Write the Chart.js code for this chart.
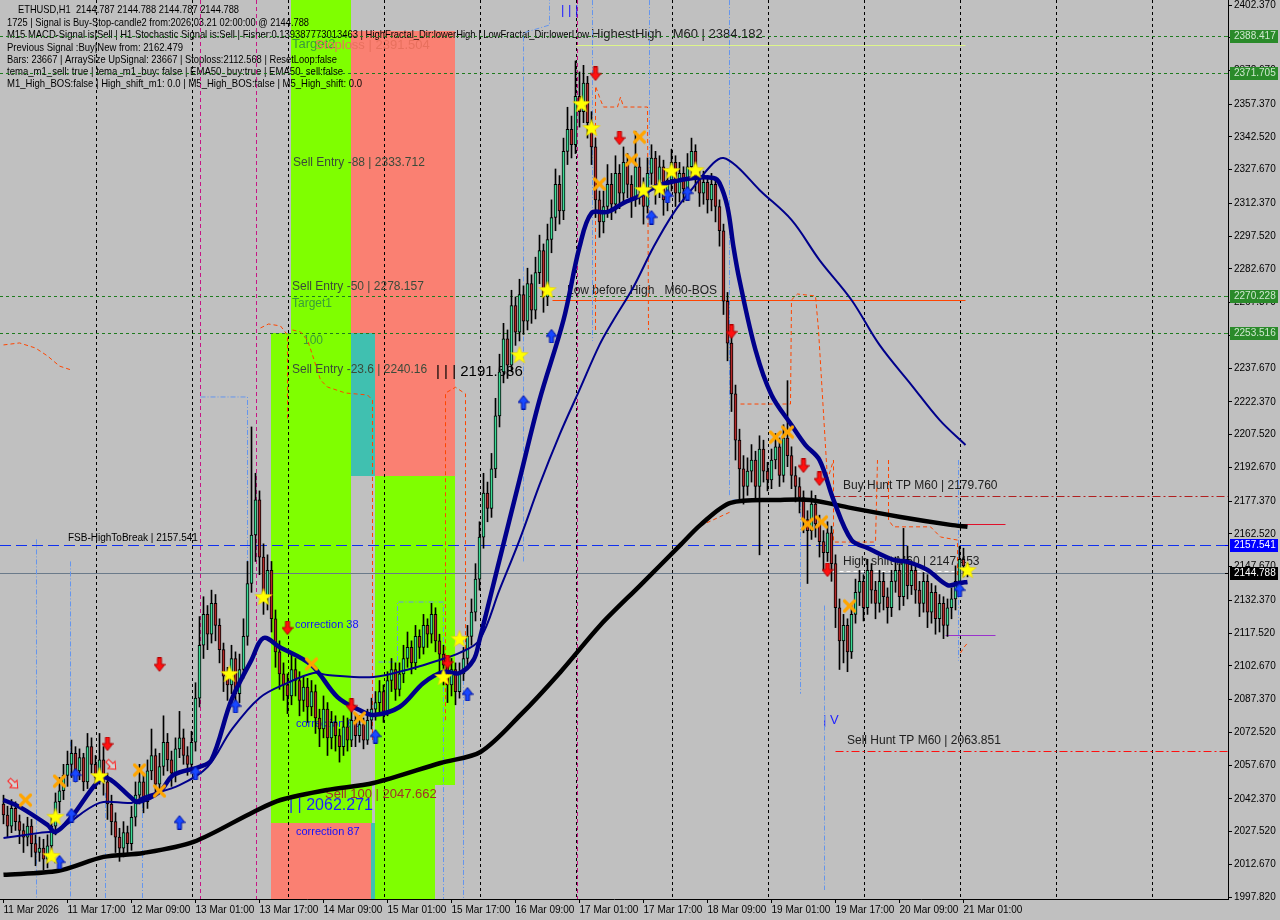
<!DOCTYPE html>
<html><head><meta charset="utf-8">
<script src="https://cdn.jsdelivr.net/npm/chart.js@4/dist/chart.umd.min.js"></script>
<style>html,body{margin:0;padding:0;background:#C0C0C0;overflow:hidden}canvas{display:block}</style>
</head><body>
<canvas id="c" width="1280" height="920" style="width:1280px;height:920px"></canvas>
<script>
// ---------------- DATA ----------------
const xTickIdx = [0,16,32,48,64,80,96,112,128,144,160,176,192,208,224,240];
const xTickLabels = ['11 Mar 2026','11 Mar 17:00','12 Mar 09:00','13 Mar 01:00','13 Mar 17:00','14 Mar 09:00','15 Mar 01:00','15 Mar 17:00','16 Mar 09:00','17 Mar 01:00','17 Mar 17:00','18 Mar 09:00','19 Mar 01:00','19 Mar 17:00','20 Mar 09:00','21 Mar 01:00'];
const yTicks = [2402.370,2387.520,2372.670,2357.370,2342.520,2327.670,2312.370,2297.520,2282.670,2267.370,2252.520,2237.670,2222.370,2207.520,2192.670,2177.370,2162.520,2147.670,2132.370,2117.520,2102.670,2087.370,2072.520,2057.670,2042.370,2027.520,2012.670,1997.820];

const open0 = 2040;
const closes = [
2035,2030,2038,2032,2028,2025,2030,2022,2018,2020,2015,2021,
2030,2041,2046,2053,
2058,2063,2055,2061,2050,2066,2058,2052,2060,
2050,2040,2032,2025,2020,2027,2022,2034,
2044,2050,2041,2055,2062,2049,2057,2068,2060,2054,2065,2070,2062,2058,2068,
2088,2112,2126,2117,2131,2121,
2110,2098,2094,2106,2090,2101,2116,
2140,2162,2178,2152,2134,2146,
2124,2109,2099,2094,2089,2101,
2096,2087,2093,2084,2091,2079,2074,2083,2070,2077,
2071,2066,2075,2069,2078,2071,2076,2069,2078,2083,
2086,2091,2082,2096,2101,2092,2099,2106,
2111,2104,2116,2111,2121,2117,2126,2114,2108,2103,
2094,2101,2091,2099,2106,2116,2127,
2142,2161,2181,2174,2192,2216,2236,
2251,2239,2266,2254,2271,2259,
2276,2264,2281,2291,2270,2296,
2306,2321,2309,2336,2346,2339,
2361,2354,2367,2349,2338,2314,
2304,2311,2321,2312,2326,2317,2331,2321,2314,2329,2319,2311,
2326,2333,2319,2329,2314,2323,2331,2317,2326,2319,2329,2336,2324,2317,2322,
2314,2321,2311,2300,2268,
2249,2226,2205,2192,2184,
2191,2196,2184,2201,2191,2187,2196,2202,2189,2206,2198,2189,2184,2179,
2169,2164,2176,2167,2159,2154,2163,2149,
2129,2114,2121,2109,2126,
2136,2141,2129,2146,2137,2131,2141,2134,
2129,2141,2146,2134,2151,2139,2146,2137,
2131,2141,2127,2136,2124,2131,2121,2129,
2133,2141,2151,2148,2144.788];
const highs = [
2044,2039,2042,2041,2035,2031,2034,2033,2026,2025,2024,2026,
2034,2045,2052,2058,
2064,2069,2066,2065,2063,2072,2070,2062,2072,
2066,2054,2044,2036,2029,2032,2030,2039,
2050,2058,2054,2060,2074,2065,2063,2080,2072,2064,2070,2082,2074,2066,2073,
2095,2125,2134,2130,2137,2135,
2124,2113,2102,2112,2109,2108,2124,
2150,2211,2190,2182,2158,2153,
2150,2128,2114,2104,2099,2108,
2106,2100,2098,2097,2096,2094,2083,2089,2086,2082,
2080,2074,2080,2079,2082,2081,2080,2079,2083,2088,
2091,2096,2094,2100,2106,2104,2104,2112,
2118,2114,2121,2119,2126,2124,2131,2129,2117,2112,
2106,2106,2104,2104,2111,2121,2133,
2149,2168,2190,2186,2199,2224,2244,
2258,2255,2273,2270,2278,2275,
2283,2280,2288,2298,2294,2303,
2314,2328,2325,2342,2356,2352,
2377,2372,2375,2370,2354,2342,
2318,2318,2330,2326,2334,2330,2338,2335,2325,2345,2333,2324,
2333,2339,2336,2334,2332,2328,2337,2334,2331,2329,2335,2342,2339,2328,2327,
2325,2326,2324,2314,2303,
2272,2253,2230,2210,2198,
2197,2203,2200,2207,2205,2195,2201,2208,2206,2212,2232,2202,2193,2188,
2182,2173,2182,2180,2171,2164,2168,2166,
2153,2133,2126,2124,2131,
2142,2146,2144,2151,2149,2141,2146,2145,
2138,2146,2152,2149,2165,2157,2150,2149,
2141,2145,2144,2140,2139,2135,2134,2133,
2138,2148,2157,2156,2149];
const lows = [
2031,2025,2027,2028,2022,2018,2021,2016,2012,2014,2010,2011,
2017,2026,2036,2042,
2048,2052,2050,2051,2046,2047,2054,2047,2049,
2044,2033,2026,2018,2014,2016,2017,2019,
2030,2040,2036,2038,2051,2044,2045,2053,2055,2048,2050,2061,2058,2053,2055,
2064,2084,2106,2110,2113,2114,
2104,2091,2087,2090,2084,2086,2097,
2112,2136,2150,2144,2126,2128,
2118,2102,2092,2087,2081,2085,
2089,2080,2082,2077,2080,2072,2066,2070,2062,2065,
2064,2059,2062,2064,2066,2066,2068,2065,2067,2074,
2078,2081,2077,2080,2091,2087,2089,2095,
2102,2099,2101,2106,2108,2111,2113,2109,2100,2094,
2086,2089,2085,2088,2096,2103,2112,
2123,2137,2156,2168,2170,2188,2211,
2231,2233,2236,2248,2250,2253,
2255,2258,2260,2276,2263,2266,
2290,2300,2303,2305,2330,2333,
2335,2347,2349,2342,2330,2306,
2297,2299,2306,2305,2308,2310,2313,2315,2306,2311,2312,2303,
2308,2321,2312,2315,2307,2309,2318,2311,2313,2313,2315,2324,2318,2311,2312,
2308,2309,2304,2293,2262,
2241,2218,2196,2178,2176,
2180,2186,2178,2153,2186,2182,2183,2192,2184,2186,2193,2183,2177,2172,
2163,2140,2160,2161,2152,2146,2150,2141,
2120,2101,2104,2100,2106,
2122,2130,2123,2126,2131,2124,2127,2128,
2122,2125,2136,2128,2130,2133,2135,2131,
2125,2127,2120,2122,2117,2118,2115,2116,
2124,2128,2137,2143,2143];

// moving averages: [bar index, price]
const maFast = [[0,2041.8],[4,2038.7],[11,2030.5],[13,2027.3],[17,2034.1],[23.5,2050.0],[26,2051.8],[32,2042.7],[33.5,2040.9],[39,2045.5],[42.5,2053.2],[49,2056.8],[52,2060.0],[57,2087.2],[62,2105.3],[65,2115.3],[69,2111.2],[77,2103.0],[83.5,2088.5],[89,2082.6],[92.5,2080.4],[99,2084.0],[105,2094.9],[110,2099.9],[114,2099.4],[117.5,2105.3],[119,2114.4],[124,2150.7],[129,2187.0],[134,2223.2],[140,2259.5],[144,2292.6],[147,2308.0],[151,2308.5],[155,2312.6],[158.5,2315.3],[164,2320.7],[172.5,2323.9],[177.5,2323.9],[179,2321.6],[181,2310.7],[182.5,2292.6],[184,2277.6],[188,2245.9],[192,2225.5],[197,2211.9],[200.5,2202.8],[204,2196.0],[207.5,2177.9],[212,2159.7],[216,2156.1],[222.5,2150.7],[226,2149.8],[231,2146.1],[236,2139.3],[239,2140.2],[241,2140.7]];
const maSlow = [[0,2024.6],[9,2026.9],[13.5,2028.2],[24,2040.5],[32,2040.5],[35,2043.2],[44,2048.6],[51,2056.8],[57,2073.6],[64,2088.1],[71,2094.9],[77.5,2099.4],[81,2098.5],[92.5,2097.6],[102.5,2101.7],[109,2105.3],[114,2108.5],[119,2114.4],[124,2137.1],[129,2159.7],[134,2184.7],[139,2207.4],[144,2227.8],[149,2248.2],[152.5,2259.5],[157.5,2274.5],[162.5,2292.6],[167.5,2308.0],[172.5,2319.8],[177.5,2330.7],[180,2333.0],[183.5,2328.9],[189,2318.5],[197,2304.9],[204,2286.7],[212,2268.6],[219,2248.2],[227,2230.0],[234,2214.2],[240.5,2202.8]];
const maLong = [[0,2007.9],[13.75,2009.7],[25,2016.0],[35,2017.8],[47.5,2022.8],[62.5,2036.4],[69.25,2041.8],[81,2046.4],[92.5,2049.5],[109.25,2058.6],[119.25,2063.6],[129.25,2080.4],[139.25,2099.9],[149.25,2121.2],[159.25,2139.3],[169.25,2157.5],[174.25,2166.6],[181.75,2176.6],[194.25,2177.9],[201.75,2177.9],[211.75,2174.3],[224.25,2170.2],[236.75,2166.6],[241,2165.7]];

// dashed envelope step lines: [bar index, price] with null breaks
const bandUpper = [[0,2248.2],[4,2249.1],[8,2246.8],[11,2243.2],[14,2238.6],[17,2236.8],null,
 [64.25,2255.9],[66.25,2257.7],[69.25,2256.8],[71,2252.7],[71,2214.2],null,
 [72.25,2255.0],[74.25,2254.1],[76,2250.4],[77.25,2243.6],[79.25,2232.3],[81,2229.1],[85.5,2226.4],[91,2225.5],[92.25,2223.2],[92.25,2069.0],null,
 [110.5,2078],[110.5,2226.4],[113,2229],[115.5,2226],[115.5,2110],null,
 [148,2255.0],[148,2365.6],[149.25,2359.3],[150,2356.1],[153.5,2356.1],[154.25,2360.6],[155,2356.1],[161,2356.1],[161.25,2255.0],null,
 [174.25,2166.2],[181.75,2172.5],null,
 [184.25,2221.4],[196.75,2221.4],[197,2268.6],[198.5,2271.3],[203,2270.4],[203.75,2255.0],[206,2187.0],[207.5,2196.0],[207.5,2158.8],[218,2158.8],[218.5,2196.0],null,
 [221.25,2196.0],[221.25,2168.8],[222.5,2165.7],[231.75,2165.7],[234.25,2161.1],[238.5,2159.7],[238.5,2142.9],null,
 [239.25,2108.5],[240,2110.8],[241,2113.0]];
const bandLower = [[8.25,2160],[8.25,1997],null,[16.75,2150],[16.75,1997],null,[25.5,2045],[25.5,1997],null,[34.75,2045],[34.75,1997],null,
 [49.25,2224.6],[61,2224.6],[61,2132.5],null,
 [93.75,2104.4],[98.5,2104.4],[98.5,2131.6],[110,2131.6],[110,1997],null,
 [115,2114.4],[115,1997],null,
 [130,2150],[130,2389.7],[136.5,2393.3],[136.5,2404.6],null,
 [147.25,2404.6],[147.25,2250],null,[161.5,2404.6],[161.5,2306],null,[181.5,2404.6],[181.5,2180],null,
 [182.25,2177.9],[199.25,2177.9],[199.25,2090],null,
 [205.25,2130],[205.25,2001],null,
 [238.75,2196],[238.75,2105]];

// signal markers: [bar index, price]
const sigSell = [[39,2103.1],[26,2067.2],[71,2119.8],[87,2084.5],[111,2104.4],[148,2371.1],[154,2342.0],[182,2254.1],[200,2193.3],[204,2187.4],[206,2146.1]];
const sigBuy = [[14,2013.7],[18,2053.2],[17,2035.0],[44,2031.8],[48,2054.1],[58,2084.5],[93,2070.8],[116,2089.9],[130,2222.3],[137,2252.3],[162,2306.2],[166,2315.8],[171,2317.1],[239,2137.1]];
const sigStar = [[12,2016.5],[13,2034.2],[24,2052.7],[56.5,2099.0],[65,2133.9],[110,2097.6],[114,2114.9],[129,2243.6],[136,2273.1],[144.5,2357.5],[147,2346.6],[160,2318.5],[164,2319.4],[167,2327.1],[173,2327.5],[241,2146.1]];
const sigCross = [[5.5,2041.8],[14,2050.4],[34,2055.4],[39,2045.9],[77,2103.5],[89,2079.0],[149,2321.2],[157,2332.1],[159,2342.5],[193,2206.4],[196,2208.7],[201,2167.0],[204.5,2167.9],[211.5,2129.8]];
const sigHollow = [[2.5,2049.1],[27,2057.7]];

// zones: [fromIdx, toIdx, priceTop, priceBottom, colour]
const zones = [
 [72,87,2404.6,2253.5,'#7FFF00'],
 [87,113,2390.5,2188.8,'#FA8072'],
 [87,93,2253.5,2188.8,'#40C0B0'],
 [67,87,2253.5,2031.4,'#7FFF00'],
 [87,92.25,2048.6,2031.4,'#7FFF00'],
 [93,113,2188.8,2048.6,'#7FFF00'],
 [93,108,2048.6,1996.0,'#7FFF00'],
 [67,92,2031.4,1996.0,'#FA8072'],
 [92,93,2031.4,1996.0,'#40C0B0']
];
// horizontal levels: [price, fromIdx, toIdx(null = right edge), colour, dash, width]
const levels = [
 [2388.417,null,null,'#1E7B1E',[3,3],1],
 [2371.705,null,null,'#1E7B1E',[3,3],1],
 [2270.228,null,null,'#1E7B1E',[3,3],1],
 [2253.516,null,null,'#1E7B1E',[3,3],1],
 [2157.541,null,null,'#1030F0',[11,5],1],
 [2144.788,null,null,'#6A7A8A',[],1],
 [2384.182,143.25,240.5,'#DDF58A',[],1],
 [2268.6,137.25,240.5,'#FF4500',[],1],
 [2179.760,207.25,null,'#B02020',[8,3,2,3],1],
 [2063.851,208,null,'#FF1010',[8,3,2,3],1],
 [2167.0,238.75,250.5,'#E0102A',[],1],
 [2116.7,235.5,248,'#9932CC',[],1],
 [2145.7,207.25,239,'#FFFFFF',[4,3],1]
];
const axisBoxes = [[2388.417,'#2A8A2A','#CFE8CF'],[2371.705,'#2A8A2A','#CFE8CF'],[2270.228,'#2A8A2A','#CFE8CF'],[2253.516,'#2A8A2A','#CFE8CF'],[2157.541,'#0000FF','#FFFFFF'],[2144.788,'#000000','#FFFFFF']];
const separators = [23,47,71,95,119,143,167,191,215,239,263,287];
const magentaLines = [49,63,143.25];
// text notes: [idx, price, text, colour, px]
const notes = [
 [72.25,2384.7,'Target2','#3A9A3A',13],
 [78,2384.2,'Stoploss | 2391.504','#E8705E',13],
 [72.5,2330.7,'Sell Entry -88 | 2333.712','#3A4A3A',12],
 [72.25,2274.5,'Sell Entry -50 | 2278.157','#3A4A3A',12],
 [72.25,2266.8,'Target1','#3A9A3A',12],
 [75,2250.0,'100','#3A9A3A',12],
 [72.25,2236.8,'Sell Entry -23.6 | 2240.16','#3A4A3A',12],
 [108.25,2235.9,'| | | 2191.586','#000000',15],
 [73,2121.2,'correction 38','#1010FF',11],
 [73.25,2076.3,'correction 61','#1010FF',11],
 [73.25,2027.3,'correction 87','#1010FF',11],
 [80.5,2044.5,'Sell 100 | 2047.662','#A0302A',13],
 [71.5,2039.1,'| | 2062.271','#1E1EFF',16],
 [16.25,2160.6,'FSB-HighToBreak | 2157.541','#000000',10],
 [141,2272.7,'Low before High   M60-BOS','#202020',12],
 [147,2388.8,'HighestHigh   M60 | 2384.182','#202020',13],
 [210,2184.2,'Buy Hunt TP M60 | 2179.760','#202020',12],
 [210,2149.8,'High shift M60 | 2147.453','#202020',12],
 [211,2068.6,'Sell Hunt TP M60 | 2063.851','#202020',12],
 [205,2078.1,'| V','#1E1EFF',13],
 [139.5,2400.1,'| | |','#1E1EFF',13]
];
const commentLines = [
 ['ETHUSD,H1  2144.787 2144.788 2144.787 2144.788',18,10,239],
 ['1725 | Signal is Buy-Stop-candle2 from:2026.03.21 02:00:00 @ 2144.788',7,23,309],
 ['M15 MACD-Signal is|Sell | H1 Stochastic Signal is:Sell | Fisher:0.139387773013463 | HighFractal_Dir:lowerHigh | LowFractal_Dir:lowerLow',7,35,589],
 ['Previous Signal :Buy|New from: 2162.479',7,48,183],
 ['Bars: 23667 | ArraySize UpSignal: 23667 | Stoploss:2112.568 | ResetLoop:false',7,60,337],
 ['tema_m1_sell: true | tema_m1_buy: false | EMA50_buy:true | EMA50_sell:false',7,72,343],
 ['M1_High_BOS:false | High_shift_m1: 0.0 | M5_High_BOS:false | M5_High_shift: 0.0',7,84,362]
];

// ---------------- ICONS ----------------
function mkIcon(w,h,draw){const c=document.createElement('canvas');c.width=w;c.height=h;draw(c.getContext('2d'));return c;}
const icoDown = mkIcon(12,15,g=>{g.beginPath();g.moveTo(4,0.5);g.lineTo(8,0.5);g.lineTo(8,7);g.lineTo(11.5,7);g.lineTo(6,14);g.lineTo(0.5,7);g.lineTo(4,7);g.closePath();g.fillStyle='#FF1010';g.fill();g.strokeStyle='#B00000';g.lineWidth=1;g.stroke();});
const icoUp = mkIcon(12,15,g=>{g.beginPath();g.moveTo(4,14.5);g.lineTo(8,14.5);g.lineTo(8,8);g.lineTo(11.5,8);g.lineTo(6,1);g.lineTo(0.5,8);g.lineTo(4,8);g.closePath();g.fillStyle='#1848FF';g.fill();g.strokeStyle='#0010A0';g.lineWidth=1;g.stroke();});
const icoStar = mkIcon(20,20,g=>{g.beginPath();for(let k=0;k<10;k++){const r=k%2?3.8:9;const a=-Math.PI/2+k*Math.PI/5;const px=10+r*Math.cos(a),py=10.5+r*Math.sin(a);k?g.lineTo(px,py):g.moveTo(px,py);}g.closePath();g.fillStyle='#FFFF00';g.fill();g.strokeStyle='#E8D000';g.lineWidth=0.6;g.stroke();});
const icoCross = mkIcon(15,15,g=>{g.lineCap='round';g.strokeStyle='#FFA500';g.lineWidth=3.2;g.beginPath();g.moveTo(2.5,2.5);g.lineTo(12.5,12.5);g.moveTo(12.5,2.5);g.lineTo(2.5,12.5);g.stroke();});
const icoHollow = mkIcon(15,15,g=>{g.translate(7.5,7.5);g.rotate(-Math.PI/4);g.beginPath();g.moveTo(-2,-6);g.lineTo(2,-6);g.lineTo(2,0);g.lineTo(5,0);g.lineTo(0,6);g.lineTo(-5,0);g.lineTo(-2,0);g.closePath();g.fillStyle='rgba(255,255,255,0.3)';g.fill();g.strokeStyle='#FF2020';g.lineWidth=1;g.stroke();});

// ---------------- BUILD ----------------
const opens = closes.map((c,i)=> i ? closes[i-1] : open0);
const bodyData = closes.map((c,i)=>({x:i,y:[opens[i],c]}));
const wickData = closes.map((c,i)=>({x:i,y:[lows[i],highs[i]]}));
const bodyColors = closes.map((c,i)=> c>=opens[i] ? '#3CDC96' : '#B42828');
const pts = a => a.map(p => p ? {x:p[0],y:p[1]} : {x:null,y:null});

function markerSet(arr, icon){
  return {type:'line', data:pts(arr), showLine:false, pointStyle:icon, pointRadius:7, pointHoverRadius:7, order:0};
}

const X_MIN = -0.875, X_MAX = 306.125, Y_MIN = 1996.914, Y_MAX = 2404.638;

const bgPlugin = {
  id:'bg',
  beforeDraw(chart){ const c=chart.ctx; c.save(); c.fillStyle='#C0C0C0'; c.fillRect(0,0,chart.width,chart.height); c.restore(); },
  beforeDatasetsDraw(chart){
    const {ctx, chartArea:ca, scales:{x,y}} = chart;
    ctx.save();
    ctx.beginPath(); ctx.rect(ca.left,ca.top,ca.right-ca.left,ca.bottom-ca.top); ctx.clip();
    for (const z of zones){
      const x0=Math.round(x.getPixelForValue(z[0]-0.125)), x1=Math.round(x.getPixelForValue(z[1]-0.125));
      const y0=Math.round(y.getPixelForValue(z[2])), y1=Math.round(y.getPixelForValue(z[3]));
      ctx.fillStyle=z[4]; ctx.fillRect(x0,y0,x1-x0,y1-y0);
    }
    ctx.fillStyle='#000'; ctx.textBaseline='middle'; ctx.font='11px "Liberation Sans", Arial, sans-serif';
    for (const [t,lx,ly,rx] of commentLines){
      const w=ctx.measureText(t).width; const sc=(rx-lx)/w;
      ctx.save(); ctx.translate(lx,ly); ctx.scale(sc,1); ctx.fillText(t,0,0); ctx.restore();
    }
    ctx.lineWidth=1;
    ctx.setLineDash([3,3]); ctx.strokeStyle='#000';
    for (const s of separators){ const px=Math.round(x.getPixelForValue(s))+0.5; ctx.beginPath(); ctx.moveTo(px,ca.top); ctx.lineTo(px,ca.bottom); ctx.stroke(); }
    ctx.setLineDash([4,3]); ctx.strokeStyle='#C71585';
    for (const s of magentaLines){ const px=Math.round(x.getPixelForValue(s))+0.5; ctx.beginPath(); ctx.moveTo(px,ca.top); ctx.lineTo(px,ca.bottom); ctx.stroke(); }
    ctx.setLineDash([]);
    for (const [i,p,t,col,fs] of notes){
      ctx.font=fs+'px "Liberation Sans", Arial, sans-serif'; ctx.fillStyle=col;
      ctx.fillText(t, x.getPixelForValue(i)-0.5, y.getPixelForValue(p));
    }
    for (const [p,f,t,col,dash,w] of levels){
      const py=Math.round(y.getPixelForValue(p))+0.5;
      const x0 = f===null ? ca.left : x.getPixelForValue(f);
      const x1 = t===null ? ca.right : x.getPixelForValue(t);
      ctx.setLineDash(dash); ctx.strokeStyle=col; ctx.lineWidth=w;
      ctx.beginPath(); ctx.moveTo(x0,py); ctx.lineTo(x1,py); ctx.stroke();
    }
    ctx.restore();
  },
  afterDraw(chart){
    const {ctx, scales:{y}} = chart;
    ctx.save();
    ctx.font='10px "Liberation Sans", Arial, sans-serif'; ctx.textBaseline='middle'; ctx.textAlign='left';
    for (const [p,bg,fg] of axisBoxes){
      const py=Math.round(y.getPixelForValue(p));
      ctx.fillStyle=bg; ctx.fillRect(1230,py-6,48,13);
      ctx.fillStyle=fg; ctx.fillText(p.toFixed(3),1234,py+0.5);
      ctx.fillStyle=bg; ctx.fillRect(1225,py,3,1);
    }
    ctx.restore();
  }
};

const chart = new Chart(document.getElementById('c'), {
  type:'bar',
  data:{ datasets:[
    {type:'line', data:pts(maFast), borderColor:'#00008B', borderWidth:4.5, pointRadius:0, tension:0.35, order:1},
    {type:'line', data:pts(maSlow), borderColor:'#00008B', borderWidth:2, pointRadius:0, tension:0.35, order:2},
    {type:'line', data:pts(maLong), borderColor:'#000000', borderWidth:4.5, pointRadius:0, tension:0.3, order:3},
    {type:'bar', data:bodyData, backgroundColor:bodyColors, borderColor:'#000', borderWidth:1, borderSkipped:false, barThickness:3, grouped:false, order:4},
    {type:'bar', data:wickData, backgroundColor:'#000', borderWidth:0, barThickness:1, grouped:false, order:5},
    {type:'line', data:pts(bandUpper), borderColor:'#FF4500', borderWidth:1, borderDash:[4,3], pointRadius:0, spanGaps:false, order:6},
    {type:'line', data:pts(bandLower), borderColor:'#6495ED', borderWidth:1, borderDash:[5,2,1,2], pointRadius:0, spanGaps:false, order:6},
    markerSet(sigHollow, icoHollow),
    markerSet(sigCross, icoCross),
    markerSet(sigStar, icoStar),
    markerSet(sigSell, icoDown),
    markerSet(sigBuy, icoUp)
  ]},
  options:{
    responsive:false, animation:false, devicePixelRatio:1,
    layout:{padding:0, autoPadding:false},
    plugins:{legend:{display:false}, tooltip:{enabled:false}},
    events:[],
    scales:{
      x:{type:'linear', min:X_MIN, max:X_MAX, offset:false, position:'bottom',
        grid:{display:true, drawOnChartArea:false, drawTicks:true, tickLength:4, color:'#000', offset:false},
        border:{display:true, color:'#000', width:1},
        afterBuildTicks:s=>{ s.ticks = xTickIdx.map(v=>({value:v})); },
        afterFit:s=>{ s.height=21; s.paddingLeft=0; s.paddingRight=0; },
        ticks:{align:'start', autoSkip:false, maxRotation:0, minRotation:0, padding:1, color:'#000',
          font:{family:'"Liberation Sans", Arial, sans-serif', size:10},
          callback:(v)=>{ const k=xTickIdx.indexOf(v); return k>=0?xTickLabels[k]:''; }}
      },
      y:{type:'linear', position:'right', min:Y_MIN, max:Y_MAX,
        grid:{display:true, drawOnChartArea:false, drawTicks:true, tickLength:4, color:'#000'},
        border:{display:true, color:'#000', width:1},
        afterBuildTicks:s=>{ s.ticks = yTicks.map(v=>({value:v})); },
        afterFit:s=>{ s.width=52; s.paddingTop=0; s.paddingBottom=0; },
        ticks:{padding:2, color:'#000', font:{family:'"Liberation Sans", Arial, sans-serif', size:10},
          callback:(v)=>Number(v).toFixed(3)}
      }
    }
  },
  plugins:[bgPlugin]
});
</script>
</body></html>
